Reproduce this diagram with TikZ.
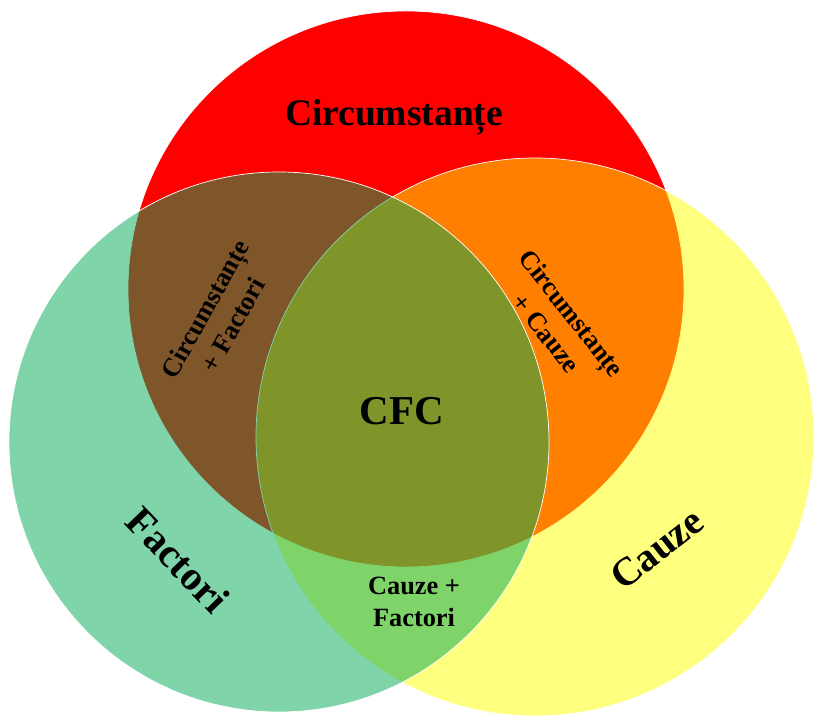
\documentclass[tikz,border=0pt]{standalone}
\usepackage{fontspec}
\setmainfont{Liberation Serif}
\definecolor{vennred}{HTML}{FF0000}
\definecolor{venngreen}{HTML}{00AA55}
\definecolor{vennyellow}{HTML}{FFFF00}

\begin{document}
\begin{tikzpicture}[
  set/.style={draw=white,line width=0.6pt},
  bigtext/.style={font=\bfseries\fontsize{32}{38}\selectfont},
  pairtext/.style={font=\bfseries\fontsize{22.5}{27.5}\selectfont,align=center}]
  \useasboundingbox (0,0) rectangle (24.51,21.51);
  \coordinate (cred) at (12.18,12.84);
  \coordinate (cyellow) at (16.05,8.40);
  \coordinate (cgreen) at (8.37,8.25);

  \path[set,fill=vennred] (cred) circle (8.34);
  \path[set,fill=vennyellow,fill opacity=0.5] (cyellow) circle (8.37);
  \path[set,fill=venngreen,fill opacity=0.5] (cgreen) circle (8.1);

  \node[bigtext,anchor=base] (circ) at (11.82,17.73) {Circumstanțe};
  \node[bigtext,font=\bfseries\fontsize{35}{40}\selectfont,anchor=base] (cfc) at (12.05,8.76) {CFC};
  \node[bigtext,font=\bfseries\fontsize{35}{40}\selectfont,rotate=-46] (fact) at (5.34,4.71) {Factori};
  \node[bigtext,font=\bfseries\fontsize{34}{40}\selectfont,rotate=38] (cauze) at (19.71,5.04) {Cauze};

  \node[pairtext,rotate=61] (circfact) at (6.57,12.0) {Circumstanțe\\+ Factori};
  \node[pairtext,rotate=-52] (circcauze) at (16.77,11.82) {Circumstanțe\\+ Cauze};
  \node[pairtext] (cauzefact) at (12.42,3.45) {Cauze +\\Factori};
\end{tikzpicture}
\end{document}
